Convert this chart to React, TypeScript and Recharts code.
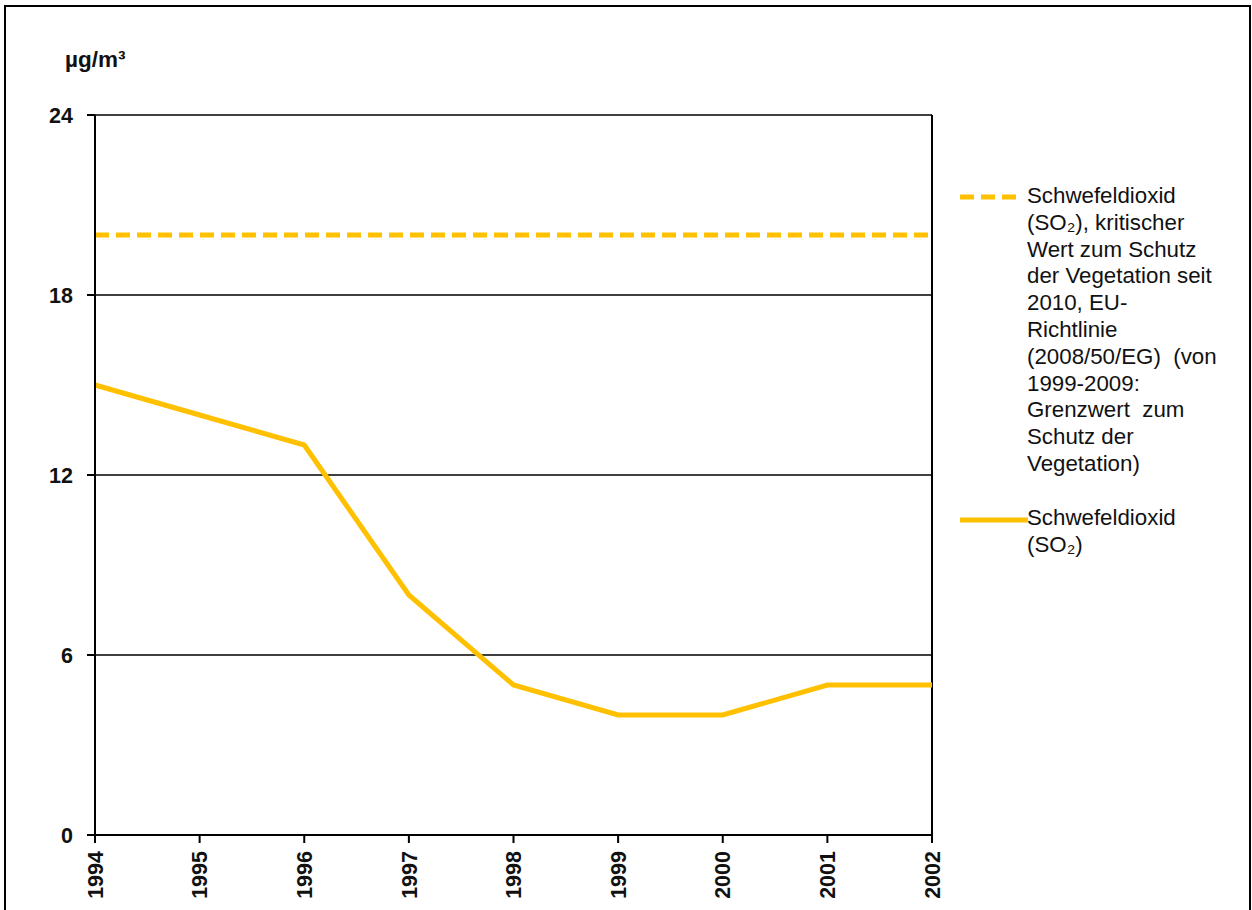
import { CartesianGrid, Line, LineChart, ReferenceLine, XAxis, YAxis } from "recharts";

const years = ["1994", "1995", "1996", "1997", "1998", "1999", "2000", "2001", "2002"];
const so2 = [15, 14, 13, 8, 5, 4, 4, 5, 5];
const criticalValue = [20, 20, 20, 20, 20, 20, 20, 20, 20];
const yTicks = [0, 6, 12, 18, 24];

const data = years.map((year, i) => ({
  year,
  limit: criticalValue[i],
  so2: so2[i],
}));

const GOLD = "#FFC000";
const FONT = "'Liberation Sans', Arial, sans-serif";

const YearTick = (props: any) => {
  const { x, y, payload } = props;
  return (
    <text
      x={x}
      y={y + 6}
      transform={`rotate(-90, ${x}, ${y + 6})`}
      textAnchor="end"
      dy="0.36em"
      fontFamily={FONT}
      fontSize={21.5}
      fontWeight="bold"
      fill="#111"
    >
      {payload.value}
    </text>
  );
};

const legendText1 = [
  "Schwefeldioxid",
  "(SO₂), kritischer",
  "Wert zum Schutz",
  "der Vegetation seit",
  "2010, EU-",
  "Richtlinie",
  "(2008/50/EG)  (von",
  "1999-2009:",
  "Grenzwert  zum",
  "Schutz der",
  "Vegetation)",
];
const legendText2 = ["Schwefeldioxid", "(SO₂)"];

const LegendBox = () => {
  const lineStyle = {
    fontFamily: FONT,
    fontSize: 22.3,
    lineHeight: "26.8px",
    color: "#111",
    whiteSpace: "pre" as const,
  };
  return (
    <div style={{ position: "relative", width: 290 }}>
      <svg width={62} height={10} style={{ position: "absolute", left: 0, top: 9 }}>
        <line x1={2} y1={5} x2={60} y2={5} stroke={GOLD} strokeWidth={5} strokeDasharray="14 7" />
      </svg>
      <div style={{ marginLeft: 69, ...lineStyle }}>
        {legendText1.map((t) => (
          <div key={t}>{t}</div>
        ))}
      </div>
      <svg width={70} height={10} style={{ position: "absolute", left: 0, top: 332 }}>
        <line x1={2} y1={5} x2={70} y2={5} stroke={GOLD} strokeWidth={5} />
      </svg>
      <div style={{ marginLeft: 69, marginTop: 27, ...lineStyle }}>
        {legendText2.map((t) => (
          <div key={t}>{t}</div>
        ))}
      </div>
    </div>
  );
};

export default function App() {
  return (
    <div
      style={{
        position: "absolute",
        left: 0,
        top: 0,
        width: 1252,
        height: 910,
        overflow: "hidden",
        background: "#fff",
      }}
    >
      <div
        style={{
          position: "absolute",
          left: 4,
          top: 5,
          width: 1243,
          height: 940,
          border: "2px solid #000",
        }}
      />
      <div
        style={{
          position: "absolute",
          left: 65,
          top: 47,
          fontFamily: FONT,
          fontSize: 22.5,
          fontWeight: "bold",
          color: "#111",
        }}
      >
        µg/m³
      </div>
      <div style={{ position: "absolute", left: 0, top: 0 }}>
        <LineChart width={1252} height={910} data={data} margin={{ top: 115, right: 320, bottom: 0, left: 0 }}>
          <CartesianGrid vertical={false} stroke="#000" strokeWidth={1.5} />
          <XAxis
            dataKey="year"
            height={75}
            stroke="#000"
            strokeWidth={2}
            tickSize={8}
            tick={<YearTick />}
            interval={0}
          />
          <YAxis
            width={95}
            domain={[0, 24]}
            ticks={yTicks}
            stroke="#000"
            strokeWidth={2}
            tickSize={8}
            tickMargin={14}
            tick={{ fontFamily: FONT, fontSize: 21.5, fontWeight: "bold", fill: "#111" }}
          />
          <ReferenceLine x="2002" stroke="#000" strokeWidth={2} />
          <Line
            dataKey="limit"
            stroke={GOLD}
            strokeWidth={5}
            strokeDasharray="14 7"
            dot={false}
            isAnimationActive={false}
          />
          <Line dataKey="so2" stroke={GOLD} strokeWidth={5} dot={false} isAnimationActive={false} />
        </LineChart>
      </div>
      <div style={{ position: "absolute", left: 958, top: 183 }}>
        <LegendBox />
      </div>
    </div>
  );
}
